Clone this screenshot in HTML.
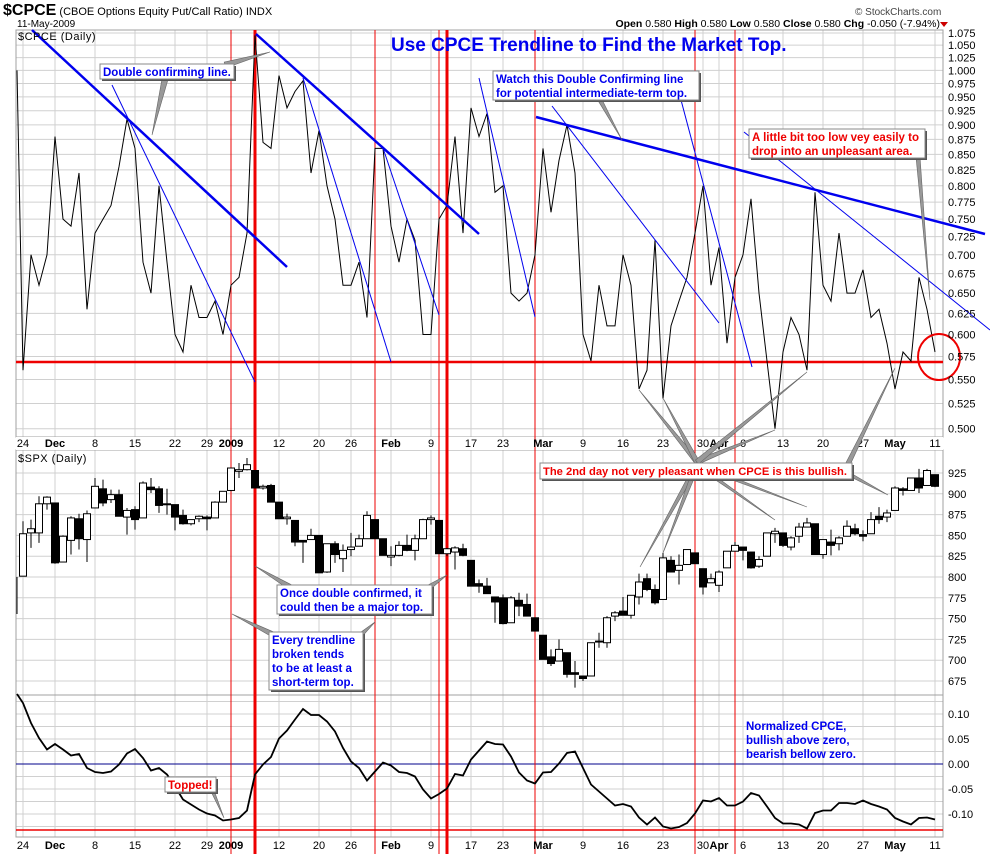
<!DOCTYPE html>
<html><head><meta charset="utf-8"><style>
body{margin:0;background:#fff;}
svg{display:block;font-family:"Liberation Sans",sans-serif;}
</style></head><body>
<svg id="chart" width="990" height="854" viewBox="0 0 990 854" xmlns="http://www.w3.org/2000/svg">
<g id="grid"></g>
<g id="vlines"></g>
<g id="series"></g>
<g id="axes"></g>
<g id="notes"></g>
</svg>
<script>
// ---------- DATA ----------
const cpceStartIndex = -1;
const cpceValues = [1.00,0.56,0.70,0.66,0.70,0.88,0.75,0.74,0.82,0.63,0.73,0.75,0.77,0.83,0.91,0.86,0.69,0.65,0.80,0.69,0.60,0.58,0.66,0.62,0.62,0.64,0.60,0.66,0.67,0.73,1.07,0.87,0.86,0.99,0.93,0.96,0.98,0.82,0.89,0.80,0.75,0.66,0.66,0.69,0.62,0.86,0.86,0.74,0.69,0.75,0.72,0.60,0.60,0.75,0.77,0.88,0.73,0.93,0.88,0.92,0.79,0.80,0.65,0.64,0.65,0.70,0.86,0.76,0.84,0.90,0.82,0.60,0.57,0.66,0.61,0.61,0.70,0.66,0.54,0.56,0.72,0.53,0.61,0.64,0.67,0.73,0.80,0.66,0.71,0.59,0.67,0.70,0.78,0.65,0.57,0.50,0.58,0.62,0.60,0.56,0.79,0.66,0.64,0.73,0.65,0.65,0.68,0.62,0.63,0.59,0.54,0.58,0.57,0.67,0.63,0.58];
const spxOpen  = [801,853,853,888,889,818,844,870,845,883,906,893,899,872,881,871,908,906,888,887,874,864,870,872,871,890,904,927,929,928,907,910,890,870,868,844,845,850,806,840,822,833,837,846,869,846,824,826,838,832,846,869,868,828,830,834,820,792,789,776,775,745,772,767,751,730,704,699,709,685,681,681,722,721,753,759,754,776,798,785,773,820,808,815,829,810,793,790,811,831,836,830,813,825,852,853,836,849,860,864,827,842,840,849,858,851,852,873,872,880,906,904,919,910,923];
const spxClose = [852,858,888,896,817,849,871,846,876,909,889,899,873,880,869,913,905,886,887,872,864,869,873,870,890,903,931,929,935,907,909,890,870,872,842,842,850,805,840,827,832,836,846,874,846,826,826,838,832,846,869,871,828,834,835,826,789,789,780,770,744,775,765,753,735,701,696,713,683,683,678,721,723,751,757,754,778,794,785,769,823,806,814,833,816,788,798,806,831,838,832,811,821,853,855,838,847,860,865,827,845,838,847,861,852,849,869,869,877,907,904,919,907,928,909];
const spxHigh  = [867,869,897,897,889,850,873,876,880,919,917,905,905,883,885,915,919,909,906,887,881,869,874,874,891,903,931,937,943,928,911,912,890,876,868,844,858,850,840,843,839,853,851,879,869,846,837,843,851,851,870,874,868,835,837,840,820,797,799,776,779,777,781,780,751,730,713,725,709,699,681,721,733,753,759,776,778,804,804,791,829,825,827,833,829,810,804,808,831,842,836,830,825,853,859,853,849,865,871,864,845,857,849,868,864,856,878,884,881,909,908,919,930,930,923];
const spxLow   = [801,835,841,881,816,818,827,833,818,883,885,889,873,851,857,871,901,877,875,856,863,862,866,856,871,890,903,919,928,907,905,890,870,863,837,817,845,805,805,817,806,825,837,846,846,826,813,825,831,820,846,863,828,825,809,825,789,781,780,745,743,745,753,753,735,701,693,699,679,667,675,681,715,715,747,754,750,767,783,767,773,806,791,815,816,779,793,782,811,831,820,810,811,825,841,836,832,841,862,827,822,826,832,849,850,843,852,864,866,880,898,904,901,910,908];
const normCpce = [0.122,0.082,0.052,0.029,0.040,0.029,0.017,0.020,-0.008,-0.016,-0.018,-0.015,-0.001,0.021,0.030,0.012,-0.013,-0.008,-0.021,-0.045,-0.071,-0.081,-0.091,-0.099,-0.103,-0.113,-0.111,-0.108,-0.093,-0.021,-0.001,0.014,0.051,0.067,0.089,0.110,0.098,0.098,0.085,0.065,0.032,0.005,-0.008,-0.033,-0.015,0.003,-0.003,-0.016,-0.018,-0.025,-0.051,-0.069,-0.060,-0.049,-0.020,-0.023,0.009,0.027,0.045,0.040,0.039,0.015,-0.017,-0.033,-0.039,-0.017,-0.016,0.001,0.022,0.025,-0.008,-0.041,-0.055,-0.069,-0.083,-0.080,-0.085,-0.107,-0.121,-0.107,-0.125,-0.129,-0.126,-0.118,-0.099,-0.073,-0.075,-0.068,-0.083,-0.083,-0.075,-0.058,-0.063,-0.085,-0.108,-0.119,-0.119,-0.121,-0.129,-0.098,-0.093,-0.093,-0.078,-0.078,-0.080,-0.073,-0.080,-0.085,-0.091,-0.108,-0.115,-0.121,-0.108,-0.107,-0.111];
const dateLabels = ["24","Dec","8","15","22","29","2009","12","20","26","Feb","9","17","23","Mar","9","16","23","30","Apr","6","13","20","27","May","11"];
const dateIndex  = [0,4,9,14,19,23,26,32,37,41,46,51,56,60,65,70,75,80,85,87,90,95,100,105,109,114];
const dateBold   = ["Dec","2009","Feb","Mar","Apr","May"];
const cpceTicks = [0.500,0.525,0.550,0.575,0.600,0.625,0.650,0.675,0.700,0.725,0.750,0.775,0.800,0.825,0.850,0.875,0.900,0.925,0.950,0.975,1.000,1.025,1.050,1.075];
const spxTicks = [675,700,725,750,775,800,825,850,875,900,925];
const normTicks = [0.10,0.05,0.00,-0.05,-0.10];

// ---------- SCALES ----------
const L=16,R=943;
const xs = i => 23 + 8*i;
const yC = v => 33 + (Math.log(1.075)-Math.log(v))*517;
const yS = p => 473 + (925-p)*0.832;
const yN = v => 764 - v*500;
const NS="http://www.w3.org/2000/svg";
function mk(parent,tag,attrs,text){const e=document.createElementNS(NS,tag);for(const k in attrs)e.setAttribute(k,attrs[k]);if(text!==undefined)e.textContent=text;parent.appendChild(e);return e;}

const grid=document.getElementById('grid'),axes=document.getElementById('axes'),series=document.getElementById('series'),vl=document.getElementById('vlines'),notes=document.getElementById('notes');

const panels=[[30,437],[450,695],[695,837]];
dateIndex.forEach(i=>{mk(grid,'line',{x1:xs(i),x2:xs(i),y1:30,y2:837,stroke:'#d0d0d0','stroke-width':1});});
cpceTicks.forEach(v=>{mk(grid,'line',{x1:L,x2:R,y1:yC(v),y2:yC(v),stroke:'#d0d0d0'});});
spxTicks.forEach(v=>{mk(grid,'line',{x1:L,x2:R,y1:yS(v),y2:yS(v),stroke:'#d0d0d0'});});
[0.125,0.1,0.075,0.05,0.025,-0.025,-0.05,-0.075,-0.1,-0.125].forEach(v=>{mk(grid,'line',{x1:L,x2:R,y1:yN(v),y2:yN(v),stroke:'#d0d0d0'});});
panels.forEach(p=>{mk(grid,'rect',{x:L,y:p[0],width:R-L,height:p[1]-p[0],fill:'none',stroke:'#a0a0a0'});});
mk(grid,'rect',{x:L,y:437,width:R-L,height:13,fill:'#fff'});

dateLabels.forEach((t,k)=>{
  [447,849].forEach(y=>{
    const e=mk(axes,'text',{x:xs(dateIndex[k]),y:y,'font-size':11,'text-anchor':'middle','font-weight':dateBold.includes(t)?'bold':'normal',fill:'#000'},t);
    
    
  });
});
cpceTicks.forEach(v=>{const e=mk(axes,'text',{x:948,y:yC(v)+4,'font-size':11,fill:'#000'},v.toFixed(3));});
spxTicks.forEach(v=>{const e=mk(axes,'text',{x:948,y:yS(v)+4,'font-size':11,fill:'#000'},String(v));});
normTicks.forEach(v=>{const e=mk(axes,'text',{x:948,y:yN(v)+4,'font-size':11,fill:'#000'},(v<0?'-':' ')+Math.abs(v).toFixed(2));});

mk(vl,'line',{x1:L,x2:R,y1:362,y2:362,stroke:'#e00',"stroke-width":2.5});
mk(vl,'line',{x1:L,x2:R,y1:yN(0),y2:yN(0),stroke:'#00008b',"stroke-width":1});
mk(vl,'line',{x1:L,x2:R,y1:830,y2:830,stroke:'#e00',"stroke-width":1.5});
[[231,1],[255,3],[375,1],[439,1],[447,3],[535,1],[695,1],[735,1]].forEach(a=>{mk(vl,'line',{x1:a[0],x2:a[0],y1:30,y2:854,stroke:'#e00','stroke-width':a[1]});});

let d='';cpceValues.forEach((v,k)=>{const i=k+cpceStartIndex;d+=(k?'L':'M')+(i<0?17:xs(i))+' '+yC(v).toFixed(1);});
const cl=mk(series,'path',{d:d,fill:'none',stroke:'#000','stroke-width':1});


mk(series,'line',{x1:17,x2:17,y1:577,y2:614,stroke:'#000'});
spxOpen.forEach((o,i)=>{
  const c=spxClose[i],x=xs(i);
  const g=mk(series,'g',{});
  
  
  mk(g,'line',{x1:x,x2:x,y1:yS(spxHigh[i]),y2:yS(spxLow[i]),stroke:'#000'});
  const top=yS(Math.max(o,c)),h=Math.max(1,Math.abs(yS(o)-yS(c)));
  mk(g,'rect',{x:x-3.5,y:top,width:7,height:h,fill:c>=o?'#fff':'#000',stroke:'#000','stroke-width':1});
});

d='M17 694';normCpce.forEach((v,i)=>{d+='L'+xs(i)+' '+yN(v).toFixed(1);});
const nl=mk(series,'path',{d:d,fill:'none',stroke:'#000','stroke-width':1.8});


[[32,30,287,267,2.5],[256,34,479,234,2.5],[536,117,985,234,2.5],[112,85,255,382,1],[303,78,391,362,1],[383,148,439,315,1],[479,78,535,317,1],[552,106,719,323,1],[681,100,752,367,1],[744,132,990,330,1]].forEach(t=>{
  const e=mk(series,'line',{x1:t[0],y1:t[1],x2:t[2],y2:t[3],stroke:'#0000ee','stroke-width':t[4]});
  
});
const circ=mk(series,'ellipse',{cx:939,cy:357,rx:21,ry:23,fill:'none',stroke:'#e00','stroke-width':2});


function ptr(x1,y1,x2,y2,w){const dx=x2-x1,dy=y2-y1,l=Math.hypot(dx,dy),nx=-dy/l*w,ny=dx/l*w;
  mk(notes,'polygon',{points:`${x1+nx},${y1+ny} ${x1-nx},${y1-ny} ${x2},${y2}`,fill:'#999',stroke:'#666','stroke-width':0.6});}
ptr(165,79,152,135,3);ptr(225,65,270,52,3);
ptr(600,100,622,140,2);
ptr(918,157,930,300,2);
ptr(697,462,639,390,2.5);ptr(697,462,663,398,2.5);ptr(697,462,775,430,2.5);ptr(697,462,807,372,2.5);
ptr(697,465,640,567,2.5);ptr(697,465,663,553,2.5);ptr(697,465,775,520,2);ptr(697,465,807,507,2);
ptr(845,470,895,368,2.5);ptr(845,472,888,495,2);
ptr(295,590,255,566,3);ptr(425,590,447,575,3);
ptr(280,638,232,614,3);ptr(355,640,375,622,3);
ptr(210,785,224,818,2);

function box(x,y,w,h,lines,color,name,fs){
  const g=mk(notes,'g',{});
  
  
  mk(g,'rect',{x:x+2,y:y+2,width:w,height:h,fill:'#555'});
  mk(g,'rect',{x:x,y:y,width:w,height:h,fill:'#fff',stroke:'#888'});
  lines.forEach((t,k)=>mk(g,'text',{x:x+3,y:y+12+k*14,'font-size':fs||11.5,'font-weight':'bold',fill:color},t));
}
box(100,64,134,15,['Double confirming line.'],'#0000ee','note-double-confirming');
box(493,71,206,29,['Watch this Double Confirming line','for potential intermediate-term top.'],'#0000ee','note-watch-line');
box(749,129,176,29,['A little bit too low vey easily to','drop into an unpleasant area.'],'#ee0000','note-too-low');
box(540,463,312,16,['The 2nd day not very pleasant when CPCE is this bullish.'],'#ee0000','note-2nd-day',11.2);
box(277,585,155,29,['Once double confirmed, it','could then be a major top.'],'#0000ee','note-double-confirmed');
box(269,632,94,58,['Every trendline','broken tends','to be at least a','short-term top.'],'#0000ee','note-every-trendline');
box(165,777,51,15,['Topped!'],'#ee0000','note-topped');
const nt=mk(notes,'text',{x:746,y:730,'font-size':11.5,'font-weight':'bold',fill:'#0000ee'});

['Normalized CPCE,','bullish above zero,','bearish bellow zero.'].forEach((t,k)=>mk(nt,'tspan',{x:746,dy:k?14:0},t));

const tt=mk(notes,'text',{x:391,y:51,'font-size':19,'font-weight':'bold',fill:'#0000ee'},'Use CPCE Trendline to Find the Market Top.');

const h1=mk(notes,'text',{x:3,y:15,'font-size':11,fill:'#000'});

mk(h1,'tspan',{'font-size':16,'font-weight':'bold'},'$CPCE');mk(h1,'tspan',{},' (CBOE Options Equity Put/Call Ratio) INDX');
mk(notes,'text',{x:17,y:27,'font-size':10,fill:'#000'},'11-May-2009');
mk(notes,'text',{x:855,y:15,'font-size':10,fill:'#444'},'© StockCharts.com');
const ohlc=mk(notes,'text',{x:940,y:27,'font-size':10.5,'text-anchor':'end',fill:'#000'});

ohlc.innerHTML='<tspan font-weight="bold">Open</tspan> 0.580  <tspan font-weight="bold">High</tspan> 0.580  <tspan font-weight="bold">Low</tspan> 0.580  <tspan font-weight="bold">Close</tspan> 0.580  <tspan font-weight="bold">Chg</tspan> -0.050 (-7.94%)';
mk(notes,'polygon',{points:'940,22 948,22 944,27',fill:'#c00'});
mk(notes,'text',{x:18,y:40,'font-size':11,fill:'#000','letter-spacing':'0.5'},'$CPCE (Daily)');
mk(notes,'text',{x:18,y:462,'font-size':11,fill:'#000','letter-spacing':'0.5'},'$SPX (Daily)');
</script>
</body></html>
